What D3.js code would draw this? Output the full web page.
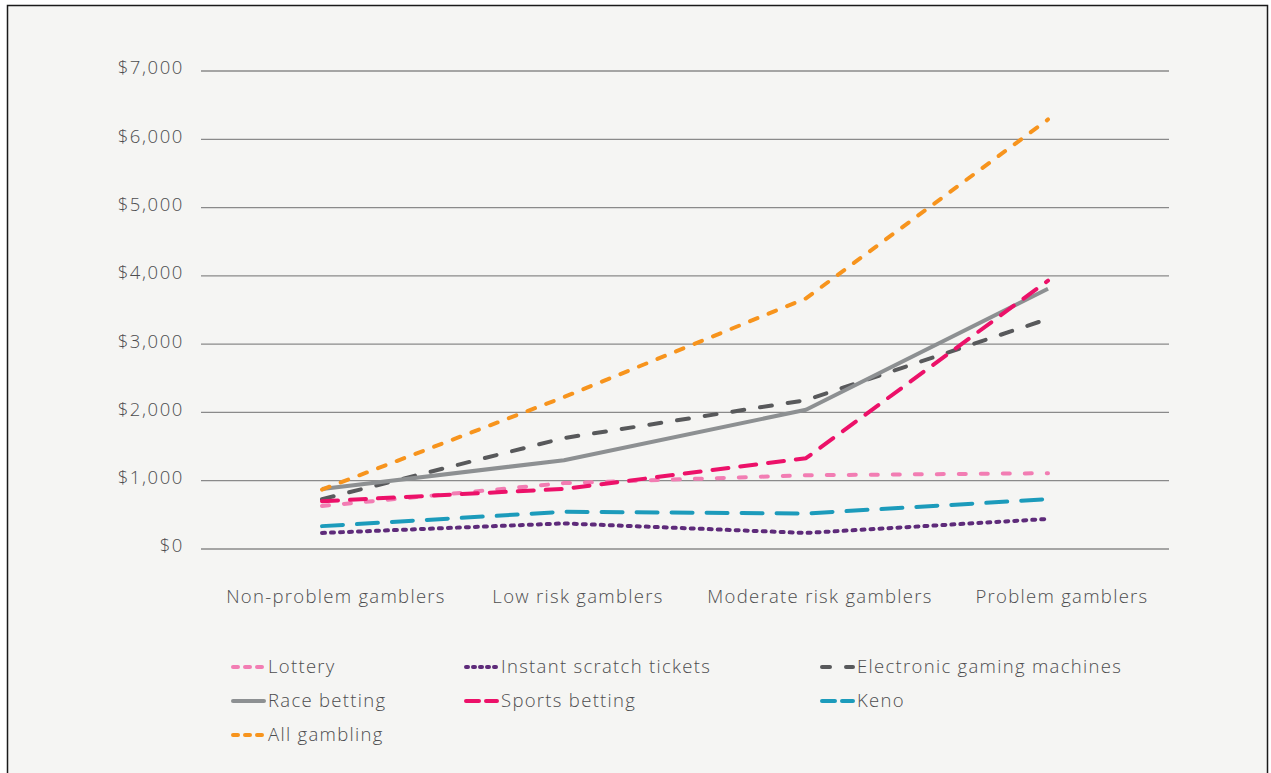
<!DOCTYPE html>
<html>
<head>
<meta charset="utf-8">
<script src="https://cdn.jsdelivr.net/npm/d3@7"></script>
<style>
  html, body { margin: 0; padding: 0; background: #fff; }
  #chart-root { width: 1271px; height: 773px; }
  text { font-family: "Open Sans", Lato, sans-serif; font-weight: 300; fill: #4d4d4f; letter-spacing: 1.3px; }
</style>
</head>
<body>
<div id="chart-root"></div>
<script>
const categories = ['Non-problem gamblers', 'Low risk gamblers', 'Moderate risk gamblers', 'Problem gamblers']
const yTicks = [0, 1000, 2000, 3000, 4000, 5000, 6000, 7000]

const seriesNames = ['Lottery', 'Instant scratch tickets', 'Electronic gaming machines', 'Race betting', 'Sports betting', 'Keno', 'All gambling']
const lottery = [630, 965, 1080, 1110]
const instantScratch = [235, 375, 235, 440]
const egm = [730, 1625, 2180, 3370]
const raceBetting = [880, 1300, 2040, 3810]
const sportsBetting = [700, 880, 1330, 3930]
const keno = [335, 545, 520, 730]
const allGambling = [870, 2225, 3670, 6290]

const seriesValues = [lottery, instantScratch, egm, raceBetting, sportsBetting, keno, allGambling]
const colors = ['#f27db3', '#5e2b7a', '#58595b', '#8d9092', '#ec1169', '#1c9bbb', '#f7941d']
const dashes = ['7,15', '3,6', '12,16', '', '16,12', '21,14', '8,12']
const legendDashes = ['5,7', '2,5', '8,16', '', '13,7', '13,7', '5,7']

function drawChart(element) {
  const width = 1271, height = 773
  const svg = d3.select(element).append('svg')
    .attr('width', width)
    .attr('height', height)

  svg.append('rect')
    .attr('x', 7.5).attr('y', 5.5)
    .attr('width', 1260).attr('height', 780)
    .attr('fill', '#f5f5f3')
    .attr('stroke', '#1a1a1a')
    .attr('stroke-width', 1.5)

  const x = d3.scaleBand().domain(categories).range([201, 1169])
  const y = d3.scaleLinear().domain([0, 7000]).range([549, 71])

  // gridlines + y labels
  const yAxis = svg.append('g')
  yAxis.selectAll('line').data(yTicks).join('line')
    .attr('x1', 201).attr('x2', 1169)
    .attr('y1', d => y(d)).attr('y2', d => y(d))
    .attr('stroke', '#8a8a8a').attr('stroke-width', 1.3)
  yAxis.selectAll('text').data(yTicks).join('text')
    .attr('x', 184).attr('y', d => y(d) - 3)
    .attr('dy', '0.35em')
    .attr('text-anchor', 'end')
    .style('font-size', '18.5px')
    .style('letter-spacing', '1.6px')
    .text(d => '$' + d3.format(',')(d))

  // category labels
  svg.append('g').selectAll('text').data(categories).join('text')
    .attr('x', d => x(d) + x.bandwidth() / 2 + 14)
    .attr('y', 597)
    .attr('dy', '0.35em')
    .attr('text-anchor', 'middle')
    .style('font-size', '18.5px')
    .text(d => d)

  const line = d3.line()
    .x((d, i) => x(categories[i]) + x.bandwidth() / 2)
    .y(d => y(d))

  svg.append('g').selectAll('path').data(seriesValues).join('path')
    .attr('d', d => line(d))
    .attr('fill', 'none')
    .attr('stroke', (d, i) => colors[i])
    .attr('stroke-width', 4)
    .attr('stroke-linecap', (d, i) => dashes[i] ? 'round' : 'butt')
    .attr('stroke-linejoin', 'round')
    .attr('stroke-dasharray', (d, i) => dashes[i] || null)

  // legend
  const colX = [231, 464, 820]
  const rowY = [667, 701, 735]
  const legend = svg.append('g').selectAll('g').data(seriesNames).join('g')
    .attr('transform', (d, i) => `translate(${colX[i % 3]},${rowY[Math.floor(i / 3)]})`)
  legend.append('line')
    .attr('x1', 2).attr('x2', 33)
    .attr('stroke', (d, i) => colors[i])
    .attr('stroke-width', 4)
    .attr('stroke-linecap', 'round')
    .attr('stroke-dasharray', (d, i) => legendDashes[i] || null)
  legend.append('text')
    .attr('x', 37)
    .attr('dy', '0.35em')
    .style('font-size', '18.5px')
    .text(d => d)
}

window.addEventListener('load', () => {
  drawChart(document.getElementById('chart-root'))
})
</script>
</body>
</html>
